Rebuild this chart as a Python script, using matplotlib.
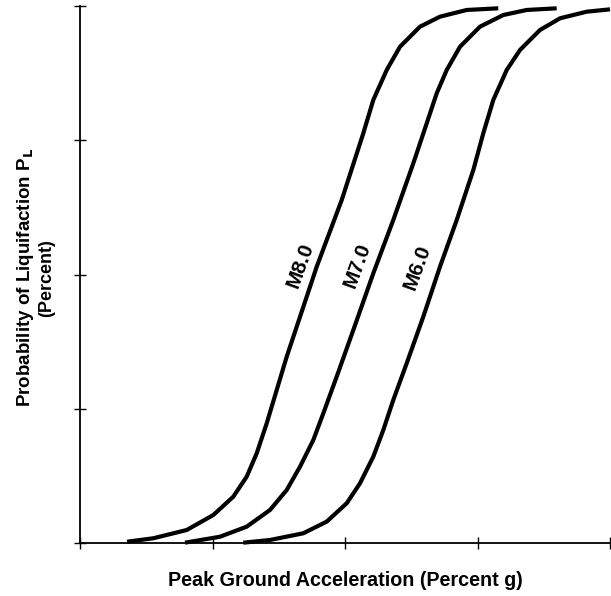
import matplotlib
matplotlib.use("Agg")
import matplotlib.pyplot as plt

plt.rcParams['font.family'] = ['Liberation Sans', 'DejaVu Sans']

# Curves (x: percent g, y: percent)
m8_x = [8.87, 13.83, 20.13, 25.15, 28.92, 31.45, 33.34, 35.23, 39.00, 44.66, 49.38,
        53.45, 55.34, 57.87, 60.38, 64.15, 67.92, 72.96, 78.92]
m8_y = [0.24, 0.88, 2.42, 5.21, 8.62, 12.35, 16.70, 22.29, 34.69, 51.45, 63.87,
        76.29, 82.50, 88.08, 92.42, 96.15, 98.01, 99.26, 99.57]

m7_x = [19.81, 26.42, 31.45, 35.85, 39.00, 41.51, 44.02, 45.91, 48.43, 51.57, 55.34,
        59.11, 62.89, 65.42, 67.30, 69.19, 71.70, 75.47, 79.87, 84.28, 89.94]
m7_y = [0.06, 1.17, 3.04, 6.15, 9.87, 14.21, 19.18, 24.15, 30.97, 39.66, 50.22,
        60.15, 70.71, 78.16, 83.74, 88.08, 92.42, 96.15, 98.32, 99.26, 99.57]

m6_x = [30.81, 35.85, 42.13, 46.55, 50.32, 52.83, 55.34, 57.23, 59.11, 61.64, 64.77,
        67.92, 71.08, 74.21, 76.09, 77.98, 80.51, 83.02, 86.79, 90.57, 95.60, 100.0]
m6_y = [0.06, 0.56, 1.81, 3.98, 7.40, 11.12, 16.08, 21.04, 26.63, 33.46, 42.14,
        51.45, 60.15, 69.46, 76.29, 82.50, 88.08, 91.81, 95.53, 97.71, 98.94, 99.38]

labels = ["M8.0", "M7.0", "M6.0"]
label_x = [41.5, 52.3, 63.6]
label_y = [51.7, 51.7, 51.3]

x_ticks = [0, 25, 50, 75, 100]
y_ticks = [0, 25, 50, 75, 100]

fig = plt.figure(figsize=(6.11, 5.96), dpi=100)
ax = fig.add_axes([80/611, 53/596, 530/611, 537/596])

for xs, ys in [(m8_x, m8_y), (m7_x, m7_y), (m6_x, m6_y)]:
    ax.plot(xs, ys, color='black', lw=3.0, solid_capstyle='butt',
            solid_joinstyle='round', clip_on=False)

for lab, lx, ly in zip(labels, label_x, label_y):
    ax.text(lx, ly, lab, rotation=70, ha='center', va='center', fontsize=15,
            fontweight='bold', color='black')

ax.set_xlim(0, 100)
ax.set_ylim(0, 100)
ax.set_xticks(x_ticks)
ax.set_yticks(y_ticks)
ax.set_xticklabels([])
ax.set_yticklabels([])
ax.tick_params(direction='inout', length=8, width=1.0, color='black')
for s in ['top', 'right']:
    ax.spines[s].set_visible(False)
for s in ['left', 'bottom']:
    ax.spines[s].set_linewidth(1.3)
for t in ax.xaxis.get_major_ticks() + ax.yaxis.get_major_ticks():
    t.tick1line.set_clip_on(False)

ax.set_xlabel("Peak Ground Acceleration (Percent g)", fontsize=14.2, fontweight='bold', labelpad=13)
fig.text(25/611, 1 - 277/596, "Probability of Liquifaction P$_{\\mathbf{L}}$", rotation=90,
         ha='center', va='center', fontsize=13.5, fontweight='bold')
fig.text(47/611, 1 - 278/596, "(Percent)", rotation=90,
         ha='center', va='center', fontsize=13, fontweight='bold')

fig.savefig("out.png", dpi=100)
